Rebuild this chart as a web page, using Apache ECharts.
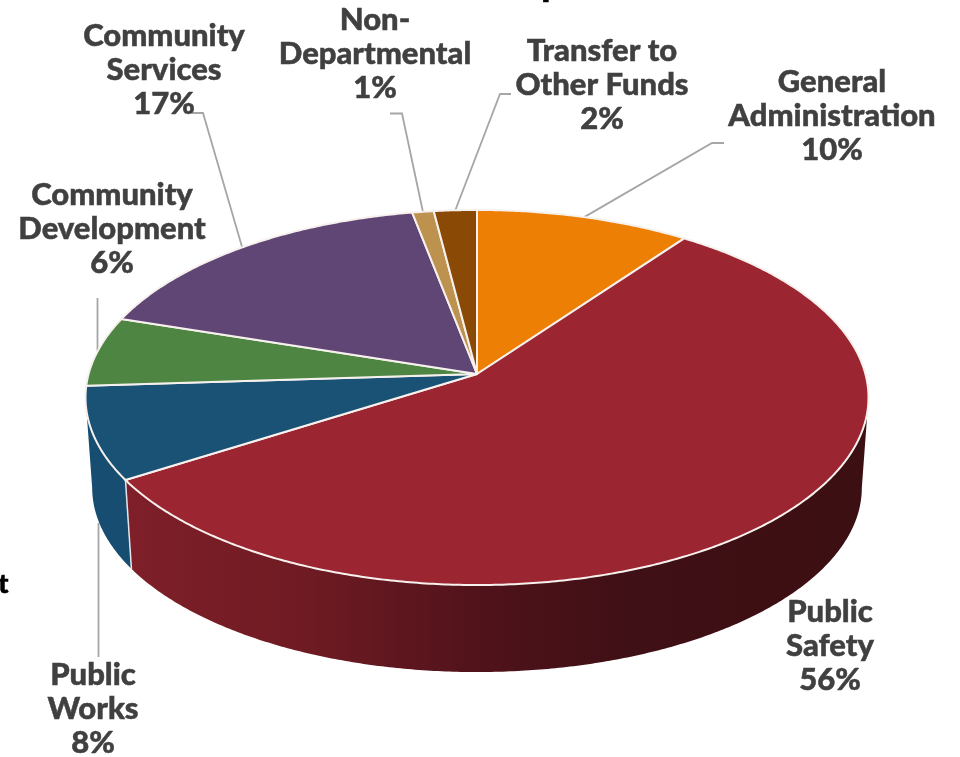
<!DOCTYPE html>
<html>
<head>
<meta charset="utf-8">
<script src="https://cdn.jsdelivr.net/npm/echarts@6/dist/echarts.min.js"></script>
<style>html,body{margin:0;padding:0;background:#fff}#chart{width:960px;height:757px}</style>
</head>
<body>
<div id="chart"></div>
<script>
// General fund budget shares, clockwise from twelve o'clock.
const categories = ['General Administration', 'Public Safety', 'Public Works', 'Community Development', 'Community Services', 'Non-Departmental', 'Transfer to Other Funds'];
const shares = [10, 56, 8, 6, 17, 1, 2];
const labelLines = [
  ['General', 'Administration'],
  ['Public', 'Safety'],
  ['Public', 'Works'],
  ['Community', 'Development'],
  ['Community', 'Services'],
  ['Non-', 'Departmental'],
  ['Transfer to', 'Other Funds']
];

const topColors = ['#EE7F05', '#9C2532', '#1A5276', '#4E8542', '#5F4675', '#BD924F', '#8A4A05'];
const wallColors = ['#8a4a03', null, '#174D70', '#2f5228', '#3a2a47', '#7a5e33', '#532c03'];

// Tilted disc: the circle is put through a projective map, so the near rim looks larger.
const disc = { cx: 477, cy: 374, a: 388.4, b: 184.6, k: 0.1253, drop: 90.6, shrink: 0.983 };
const TANGENT_R = 97.2, TANGENT_L = 262.8;

function project(deg, bottom) {
  const t = deg * Math.PI / 180;
  const u = Math.sin(t), v = -Math.cos(t), w = 1 - disc.k * v;
  const x = disc.a * u / w, y = disc.b * v / w;
  return bottom
    ? [disc.cx + disc.shrink * x, disc.cy + disc.drop + disc.shrink * y]
    : [disc.cx + x, disc.cy + y];
}
function arc(from, to, bottom) {
  const pts = [], n = Math.max(2, Math.ceil(Math.abs(to - from) * 2));
  for (let i = 0; i <= n; i++) pts.push(project(from + (to - from) * i / n, bottom));
  return pts;
}

const total = shares.reduce((s, v) => s + v, 0);
const angles = [];
shares.reduce((acc, v) => { angles.push([acc / total * 360, (acc + v) / total * 360]); return acc + v; }, 0);

// Label layout: text centre, first line centre, and the elbow and end of each leader.
const labelLayout = [
  { x: 832, y: 82, elbow: [712, 143], end: [724, 143], rim: 'top' },
  { x: 830, y: 612 },
  { x: 93, y: 675, end: [98.5, 657], rim: 'bottom' },
  { x: 112, y: 195, end: [97.5, 298], rim: 'top' },
  { x: 164, y: 36, elbow: [203, 113], end: [192, 113], rim: 'top' },
  { x: 375, y: 20, elbow: [402, 113.5], end: [390, 113.5], rim: 'top' },
  { x: 602, y: 51, elbow: [500, 94], end: [511, 94], rim: 'top' }
];

const labelFont = { fontFamily: 'Lato', fontWeight: 900, fontSize: 31, fill: '#404040', stroke: '#404040', lineWidth: 0.5 };
const LINE_STEP = 34;

function renderWall(params) {
  const i = params.dataIndex;
  const from = Math.max(angles[i][0], TANGENT_R), to = Math.min(angles[i][1], TANGENT_L);
  if (to <= from) return { type: 'group', children: [] };
  const pts = arc(from, to, false).concat(arc(to, from, true));
  const fill = wallColors[i] || {
    type: 'linear', x: 120, y: 0, x2: 860, y2: 0, global: true,
    colorStops: [
      { offset: 0, color: '#7F1F29' },
      { offset: 0.25, color: '#6F1B23' },
      { offset: 0.5, color: '#4F121A' },
      { offset: 0.68, color: '#3F1015' },
      { offset: 1, color: '#3C0F13' }
    ]
  };
  const children = [{ type: 'polygon', shape: { points: pts }, style: { fill } }];
  if (angles[i][0] > TANGENT_R) {
    children.push({
      type: 'line',
      shape: { x1: project(from)[0], y1: project(from)[1], x2: project(from, true)[0], y2: project(from, true)[1] },
      style: { stroke: '#e6e6ea', lineWidth: 1.5 }
    });
  }
  return { type: 'group', children };
}

function renderTop(params) {
  const i = params.dataIndex;
  const pts = [[disc.cx, disc.cy]].concat(arc(angles[i][0], angles[i][1], false));
  return { type: 'polygon', shape: { points: pts }, style: { fill: topColors[i], stroke: '#f7f1ee', lineWidth: 2, lineJoin: 'round' } };
}

function renderLabel(params, api) {
  const i = params.dataIndex;
  const lay = labelLayout[i];
  const lines = labelLines[i].concat([api.value(0) + '%']);
  const children = lines.map((line, n) => ({
    type: 'text',
    style: Object.assign({ text: line, x: lay.x, y: lay.y + n * LINE_STEP, align: 'center', verticalAlign: 'middle' }, labelFont)
  }));
  if (lay.end) {
    const mid = (angles[i][0] + angles[i][1]) / 2;
    const anchor = project(mid, lay.rim === 'bottom');
    const knee = lay.elbow || [lay.end[0], lay.end[1]];
    const target = lay.elbow ? anchor : [lay.end[0], anchor[1]];
    children.unshift({
      type: 'polyline',
      shape: { points: lay.elbow ? [lay.end, knee, target] : [knee, target] },
      style: { fill: null, stroke: '#a6a6a6', lineWidth: 1.8 }
    });
  }
  return { type: 'group', children };
}

const seriesData = shares.map((v, i) => ({ name: categories[i], value: v }));

// Ends of words cut off by the page edges.
const edgeFont = { fontFamily: 'Lato', fontWeight: 900, fill: '#000', stroke: '#000', lineWidth: 0.6 };

const chart = echarts.init(document.getElementById('chart'), null, { renderer: 'canvas' });
chart.setOption({
  animation: false,
  backgroundColor: '#fff',
  graphic: [
    { type: 'text', left: -2, top: 570, style: Object.assign({ text: 't', fontSize: 27 }, edgeFont) },
    { type: 'text', left: 541, top: -34, style: Object.assign({ text: 'p', fontSize: 36 }, edgeFont) }
  ],
  series: [
    { type: 'custom', coordinateSystem: 'none', data: seriesData, renderItem: renderLabel, z: 3, silent: true },
    { type: 'custom', coordinateSystem: 'none', data: seriesData, renderItem: renderWall, z: 4, silent: true },
    { type: 'custom', coordinateSystem: 'none', data: seriesData, renderItem: renderTop, z: 5, silent: true }
  ]
});
</script>
</body>
</html>
